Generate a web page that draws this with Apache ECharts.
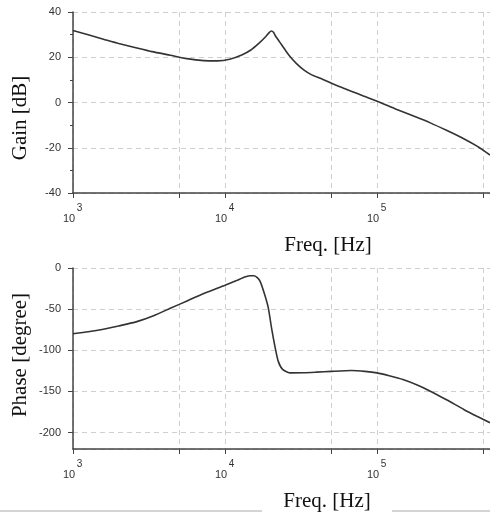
<!DOCTYPE html>
<html>
<head>
<meta charset="utf-8">
<script src="https://cdn.jsdelivr.net/npm/echarts@6/dist/echarts.min.js"></script>
<style>
html,body{margin:0;padding:0;background:#fff;}
#chart{width:490px;height:512px;}
</style>
</head>
<body>
<div id="chart"></div>
<script>
// Gain plot data (frequency in Hz, gain in dB)
var gainFreq = [1000,1259,1585,1995,2630,3311,4365,5623,7244,8913,10720,12880,14790,16600,18620,19500,20180,20890,21380,22910,25120,26920,29510,33110,37150,42660,50120,57540,67610,81280,100000,134900,173800,223900,288400,371500,457100,553000];
var gainDb   = [31.8,29.9,28.0,26.1,24.1,22.5,20.9,19.4,18.5,18.4,19.1,21.0,23.2,26.0,29.3,30.9,31.6,30.9,29.6,26.7,22.8,20.1,17.2,14.3,12.2,10.6,8.5,6.8,5.0,2.9,0.6,-3.1,-6.0,-9.0,-12.4,-16.0,-19.4,-23.2];
// Phase plot data (frequency in Hz, phase in degrees)
var phaseFreq = [1000,1259,1585,1995,2630,3388,4365,5623,7244,10000,12020,13490,14790,15490,16220,16980,18200,19280,20230,21380,22390,23990,26920,33110,39810,50120,67610,83180,100000,120200,147900,182000,223900,288400,371500,457100,553000];
var phaseDeg  = [-80,-77.5,-74.4,-70.5,-65.2,-58,-49,-40,-31,-21,-15,-11,-9.5,-9.5,-11.5,-16,-32,-49,-73,-97,-113.5,-123.5,-127.5,-127.3,-126.6,-125.6,-124.6,-125.6,-127.5,-131,-135.6,-142,-149.7,-160.5,-171.9,-180.5,-188];
// Axis ticks
var freqMin = 1000, freqMax = 553000;
var freqTicks = [1000,5000,10000,50000,100000,500000];
var freqLabels = [1000,10000,100000];
var gainMin = -40, gainMax = 40, gainStep = 20;
var phaseMin = -220, phaseMax = 0;

function zip(a, b){ return a.map(function(v,i){ return [v, b[i]]; }); }

var axisColor = '#444';
var gridLine = {show:true, lineStyle:{color:'#cfcfcf', type:[5,4], width:1}};
function xAxisFor(idx){
  return {
    type:'log', logBase:10, gridIndex:idx, min:freqMin, max:freqMax,
    axisLine:{show:true, onZero:false, lineStyle:{color:axisColor, width:1.5}},
    axisTick:{show:true, inside:false, length:5, customValues:freqTicks, lineStyle:{color:axisColor}},
    minorTick:{show:false},
    splitLine:gridLine,
    axisLabel:{
      customValues:freqLabels, margin:10, color:'#333',
      formatter:function(v){ var e = Math.round(Math.log10(v)); return '{s|' + e + '}\n{b|10}'; },
      rich:{
        s:{fontSize:10, fontFamily:'Liberation Sans', color:'#333', lineHeight:10, padding:[0,0,0,13]},
        b:{fontSize:11, fontFamily:'Liberation Sans', color:'#333', lineHeight:11, padding:[0,8,0,0]}
      }
    }
  };
}
var option = {
  animation:false,
  backgroundColor:'#fff',
  grid:[
    {left:73, top:12, width:417, height:181},
    {left:73, top:268, width:417, height:181}
  ],
  xAxis:[xAxisFor(0), xAxisFor(1)],
  yAxis:[
    {type:'value', gridIndex:0, min:gainMin, max:gainMax, interval:gainStep,
     axisLine:{show:true, lineStyle:{color:axisColor, width:1.5}},
     axisTick:{show:true, length:5, lineStyle:{color:axisColor}},
     minorTick:{show:true, splitNumber:2, length:3, lineStyle:{color:axisColor}},
     splitLine:gridLine,
     axisLabel:{fontSize:11, fontFamily:'Liberation Sans', color:'#333', margin:12}},
    {type:'value', gridIndex:1, min:phaseMin, max:phaseMax, splitNumber:5,
     axisLine:{show:true, lineStyle:{color:axisColor, width:1.5}},
     axisTick:{show:true, length:5, lineStyle:{color:axisColor}},
     splitLine:gridLine,
     axisLabel:{fontSize:11, fontFamily:'Liberation Sans', color:'#333', margin:12, showMinLabel:false}}
  ],
  series:[
    {type:'line', xAxisIndex:0, yAxisIndex:0, data:zip(gainFreq, gainDb), showSymbol:false, smooth:0.2,
     lineStyle:{color:'#333', width:1.6}},
    {type:'line', xAxisIndex:1, yAxisIndex:1, data:zip(phaseFreq, phaseDeg), showSymbol:false, smooth:0.2,
     lineStyle:{color:'#333', width:1.6}}
  ],
  graphic:[
    {type:'text', x:20, y:118, rotation:Math.PI/2, style:{text:'Gain [dB]', font:'21px "Liberation Serif"', fill:'#111', align:'center', verticalAlign:'middle'}},
    {type:'text', x:20, y:355, rotation:Math.PI/2, style:{text:'Phase [degree]', font:'21px "Liberation Serif"', fill:'#111', align:'center', verticalAlign:'middle'}},
    {type:'text', x:328, y:245, style:{text:'Freq. [Hz]', font:'21px "Liberation Serif"', fill:'#111', align:'center', verticalAlign:'middle'}},
    {type:'text', x:327, y:501, style:{text:'Freq. [Hz]', font:'21px "Liberation Serif"', fill:'#111', align:'center', verticalAlign:'middle'}},
    {type:'line', shape:{x1:0, y1:511, x2:262, y2:511}, style:{stroke:'#aaa', lineWidth:1}},
    {type:'line', shape:{x1:392, y1:511, x2:490, y2:511}, style:{stroke:'#aaa', lineWidth:1}}
  ]
};
var chart = echarts.init(document.getElementById('chart'), null, {renderer:'canvas'});
chart.setOption(option);
</script>
</body>
</html>
